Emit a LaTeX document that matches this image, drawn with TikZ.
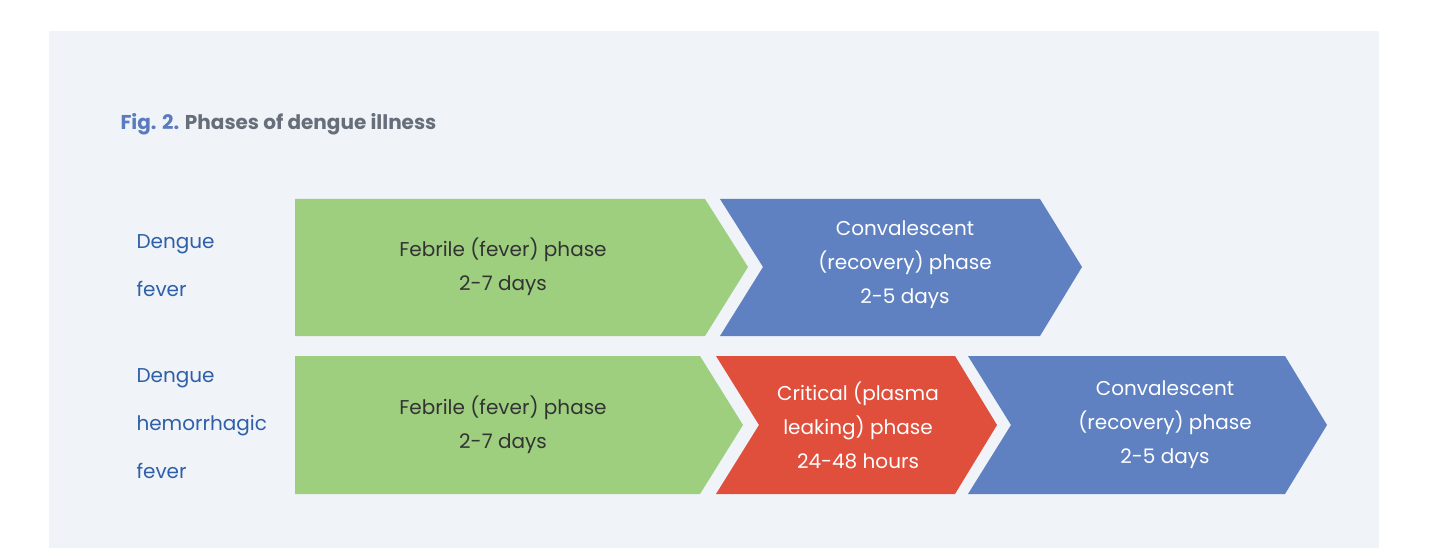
\documentclass[tikz,border=0pt]{standalone}
\usepackage{fontspec}
\setmainfont{Poppins}
\definecolor{panel}{HTML}{F0F3F8}
\definecolor{gr}{HTML}{9DCF7F}
\definecolor{bl}{HTML}{5F81C1}
\definecolor{rd}{HTML}{E04E3C}
\definecolor{figb}{HTML}{5B7BBF}
\definecolor{gy}{HTML}{666E7A}
\definecolor{lab}{HTML}{2E5FA8}
\begin{document}
\begin{tikzpicture}[x=1pt,y=-1pt,
  txt/.style={align=center,font=\fontsize{20}{34}\selectfont},
  lbl/.style={align=left,anchor=west,text=lab,font=\fontsize{20}{48}\selectfont}]
\useasboundingbox (0,0) rectangle (1437,548);
\fill[panel] (49,31) rectangle (1379,548);
\node[anchor=base west,font=\fontsize{20}{24}\selectfont\bfseries] (title) at (117,130) {\textcolor{figb}{Fig. 2.} \textcolor{gy}{Phases of dengue illness}};
% row 1
\fill[gr] (295,199)--(705,199)--(748,267)--(705,336)--(295,336)--cycle;
\fill[bl] (720,199)--(1040,199)--(1082,267)--(1040,336)--(720,336)--(763,267)--cycle;
% row 2
\fill[gr] (295,356)--(700,356)--(743,425)--(700,494)--(295,494)--cycle;
\fill[rd] (716,356)--(955,356)--(997,425)--(955,494)--(716,494)--(759,425)--cycle;
\fill[bl] (968,356)--(1285,356)--(1327,425)--(1285,494)--(968,494)--(1011,425)--cycle;
\node[txt,text=black!80] (g1) at (503,267) {Febrile (fever) phase\\2-7 days};
\node[txt,text=white] (b1) at (905,265) {Convalescent\\(recovery) phase\\2-5 days};
\node[txt,text=black!80] (g2) at (503,425) {Febrile (fever) phase\\2-7 days};
\node[txt,text=white] (r2) at (858,425) {Critical (plasma\\leaking) phase\\24-48 hours};
\node[txt,text=white] (b2) at (1165,425) {Convalescent\\(recovery) phase\\2-5 days};
\node[lbl,font=\fontsize{20}{48}\selectfont,align=left] (l1) at (133,266) {Dengue\\fever};
\node[lbl] (l2) at (133,424) {Dengue\\hemorrhagic\\fever};
\end{tikzpicture}
\end{document}
